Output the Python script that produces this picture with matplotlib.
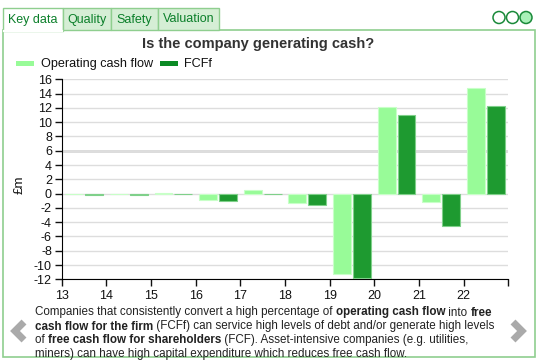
import matplotlib
matplotlib.use("Agg")
import matplotlib.pyplot as plt
import numpy as np
from matplotlib.patches import Rectangle, Circle

# ---- data ----
years = [13, 14, 15, 16, 17, 18, 19, 20, 21, 22]
ocf = [-0.05, 0.0, 0.1, -0.9, 0.5, -1.3, -11.25, 12.1, -1.15, 14.75]
fcff = [-0.15, -0.2, 0.0, -1.07, 0.0, -1.55, -11.85, 11.0, -4.6, 12.2]
yticks = list(range(-12, 17, 2))
tabs = ["Key data", "Quality", "Safety", "Valuation"]
title = "Is the company generating cash?"
series_names = ["Operating cash flow", "FCFf"]
para = [
    [("Companies that consistently convert a high percentage of ", False),
     ("operating cash flow", True), (" into ", False), ("free", True)],
    [("cash flow for the firm", True),
     (" (FCFf) can service high levels of debt and/or generate high levels", False)],
    [("of ", False), ("free cash flow for shareholders", True),
     (" (FCF). Asset-intensive companies (e.g. utilities,", False)],
    [("miners) can have high capital expenditure which reduces free cash flow.", False)],
]

W, H = 543, 362
plt.rcParams['font.family'] = ['Liberation Sans', 'DejaVu Sans']
fig = plt.figure(figsize=(W / 100, H / 100), dpi=100)
fig.patch.set_facecolor("white")

# background overlay axes in pixel coords (top-left origin)
bg = fig.add_axes([0, 0, 1, 1], zorder=0)
bg.set_xlim(0, W)
bg.set_ylim(H, 0)
bg.axis("off")

GREEN_BORDER = "#8fce8f"
TAB_FILL = "#d5eed5"
TAB_TEXT = "#0b7f2a"

# panel border
bg.add_patch(Rectangle((3, 30), 532, 327, fill=False, ec=GREEN_BORDER, lw=1.2))
# tabs
tab_edges = [3, 63, 111, 158, 219]
for i, t in enumerate(tabs):
    x0, x1 = tab_edges[i], tab_edges[i + 1]
    fc = "white" if i == 0 else TAB_FILL
    bg.add_patch(Rectangle((x0, 8), x1 - x0, 22.5 if i == 0 else 22, fc=fc,
                           ec=GREEN_BORDER, lw=1.0, zorder=2))
    if i == 0:
        bg.plot([x0 + 0.6, x1 - 0.6], [30.5, 30.5], color="white", lw=1.6, zorder=3)
    bg.text((x0 + x1) / 2, 19.5, t, ha="center", va="center", fontsize=9,
            color=TAB_TEXT, zorder=4)
# circles top right
for j, cx in enumerate([499, 512.5, 526]):
    bg.add_patch(Circle((cx, 17.5), 6, fc="#a8f0b8" if j == 2 else "white",
                        ec="#1a8a3a", lw=1.1))

# title
bg.text(258, 44, title, ha="center", va="center", fontsize=10.5,
        fontweight="bold", color="#333333")

LIGHT = "#98fb98"
DARK = "#1e9a30"
LEG_DARK = "#0b8a24"
# legend
bg.add_patch(Rectangle((16, 61), 18, 5, fc=LIGHT, ec="none"))
bg.text(41, 64, series_names[0], ha="left", va="center", fontsize=9.1, color="#111")
bg.add_patch(Rectangle((160, 61), 18, 5, fc=LEG_DARK, ec="none"))
bg.text(184, 64, series_names[1], ha="left", va="center", fontsize=9.1, color="#111")

# y label
bg.text(20, 185, "£m", rotation=90, ha="center", va="center", fontsize=9.5, color="#111")

# chevrons
bg.plot([24, 15, 24], [322, 331, 340], color="#aaaaaa", lw=5, solid_capstyle="butt",
        solid_joinstyle="miter")
bg.plot([513, 522, 513], [322, 331, 340], color="#aaaaaa", lw=5, solid_capstyle="butt",
        solid_joinstyle="miter")

# ---- chart axes ----
ax = fig.add_axes([61.7 / W, 1 - 279.3 / H, (508.3 - 61.7) / W, 200 / H], zorder=1)
ax.patch.set_alpha(0)
x = np.array(years, dtype=float) + 0.5
bw = 0.4
ax.bar(x - 0.222, ocf, width=bw, color=LIGHT, edgecolor="#c8ffc8", linewidth=0.8, zorder=3)
ax.bar(x + 0.222, fcff, width=bw, color=DARK, edgecolor="#7fd08a", linewidth=0.8, zorder=3)
ax.set_xlim(years[0], years[-1] + 1)
ax.set_ylim(-12, 16)
ax.set_yticks(yticks)
ax.set_yticklabels([str(v) for v in yticks])
ax.set_xticks(list(years) + [years[-1] + 1])
ax.set_xticklabels([str(y) for y in years] + [""])
ax.grid(axis="y", color="#dddddd", lw=1, zorder=0)
ax.axhline(6, color="#d8d8d8", lw=2, zorder=0)
for s in ["top", "right"]:
    ax.spines[s].set_visible(False)
ax.spines["left"].set_color("black")
ax.spines["bottom"].set_color("black")
ax.tick_params(axis="both", labelsize=9, colors="#111", length=5, width=1,
               direction="out", pad=2)
ax.tick_params(axis="x", pad=3)

# ---- paragraph with bold runs ----
fig.canvas.draw()
renderer = fig.canvas.get_renderer()
line_y = [312.5, 326.5, 340, 354]
for ly, segs in zip(line_y, para):
    cx = 35
    for txt, bold in segs:
        t = bg.text(cx, ly, txt, ha="left", va="center", fontsize=8.4,
                    fontweight="bold" if bold else "normal", color="#222222")
        bb = t.get_window_extent(renderer=renderer)
        cx += bb.width  # 1 px == 1 data unit here

fig.savefig("out.png", dpi=100, facecolor="white")
